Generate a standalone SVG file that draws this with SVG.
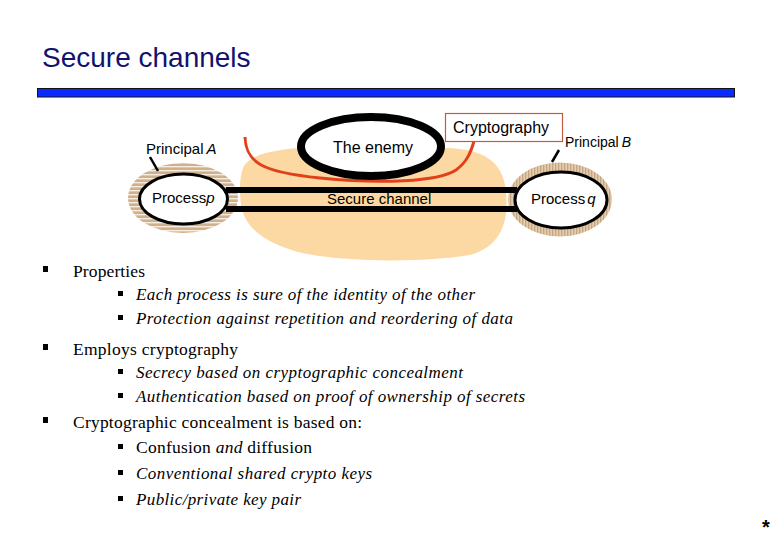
<svg xmlns="http://www.w3.org/2000/svg" width="780" height="540" viewBox="0 0 780 540">
<style>
.lbl{font-family:"Liberation Sans",Arial,sans-serif;fill:#000}
.l1{font-family:"Liberation Serif","Times New Roman",serif;font-size:17.5px;fill:#000}
.l2{font-family:"Liberation Serif","Times New Roman",serif;font-size:17px;font-style:italic;fill:#000}
.bul{fill:#000}
.chan{stroke:#000;stroke-width:6;fill:none}
</style>
<defs>
<pattern id="hstripe" width="6" height="4" patternUnits="userSpaceOnUse">
<rect width="6" height="4" fill="#cfb08a"/>
<rect y="2" width="6" height="1.4" fill="#f6ece0"/>
</pattern>
<pattern id="vstripe" width="3" height="6" patternUnits="userSpaceOnUse">
<rect width="3" height="6" fill="#c8a57c"/>
<rect x="1.6" width="1" height="6" fill="#f4e8d8"/>
</pattern>
</defs>
<rect width="780" height="540" fill="#fff"/>
<g id="title">
<text x="42" y="67" font-family="'Liberation Sans',Arial,sans-serif" font-size="28" fill="#12126e">Secure channels</text>
<rect x="37.5" y="88.5" width="697" height="8.5" fill="#0a2aff" stroke="#111" stroke-width="1"/>
</g>
<g id="blob">
<path d="M244,166 C252,153 280,148 320,147 L450,148 C482,150 500,160 505,185 C510,215 505,245 470,255 C420,263 345,262 302,253 C268,244 245,230 241,205 C239,188 240,174 244,166 Z" fill="#fcd9a2"/>
</g>
<g id="principalA">
<ellipse cx="183" cy="198" rx="55" ry="35" fill="url(#hstripe)"/>
<ellipse cx="183.5" cy="199" rx="44" ry="25" fill="#fff" stroke="#000" stroke-width="3"/>
<text class="lbl" x="146" y="154" font-size="15">Principal<tspan font-style="italic" dx="3">A</tspan></text>
<line x1="150" y1="157" x2="158" y2="171" stroke="#000" stroke-width="2.5"/>
<text class="lbl" x="152" y="203" font-size="15">Process<tspan font-style="italic">p</tspan></text>
</g>
<g id="principalB">
<ellipse cx="560" cy="199.5" rx="52" ry="37" fill="url(#vstripe)"/>
<ellipse cx="561" cy="200" rx="46" ry="28" fill="#fff" stroke="#000" stroke-width="3"/>
<text class="lbl" x="565" y="147" font-size="14">Principal<tspan font-style="italic" dx="3">B</tspan></text>
<line x1="559" y1="150" x2="552" y2="162" stroke="#000" stroke-width="2.5"/>
<text class="lbl" x="531" y="204" font-size="15">Process<tspan font-style="italic" dx="2">q</tspan></text>
</g>
<g id="connectors">
<line class="chan" x1="226" y1="190" x2="517" y2="190"/>
<line class="chan" x1="226" y1="209" x2="517" y2="209"/>
<path d="M245,137 C246,163 262,172 320,178 C380,184 438,182 456,170 C467,162 471,152 474,141" fill="none" stroke="#e2401a" stroke-width="3"/>
</g>
<g id="channelLabel">
<text class="lbl" x="327" y="204" font-size="15">Secure channel</text>
</g>
<g id="enemy">
<ellipse cx="371" cy="146.5" rx="70" ry="29.5" fill="#fff" stroke="#000" stroke-width="8"/>
<text class="lbl" x="333" y="153" font-size="16">The enemy</text>
</g>
<g id="cryptography">
<rect x="445.5" y="113.5" width="117" height="28" fill="#fff" stroke="#c05a40" stroke-width="1.2"/>
<text class="lbl" x="453" y="133" font-size="16">Cryptography</text>
</g>
<g id="bullets">
<rect class="bul" x="43" y="266" width="5" height="6"/>
<text class="l1" x="73" y="277" textLength="72" lengthAdjust="spacing">Properties</text>
<rect class="bul" x="118" y="291" width="5" height="5"/>
<text class="l2" x="136" y="300" textLength="339" lengthAdjust="spacing">Each process is sure of the identity of the other</text>
<rect class="bul" x="118" y="315" width="5" height="5"/>
<text class="l2" x="136" y="324" textLength="377" lengthAdjust="spacing">Protection against repetition and reordering of data</text>
<rect class="bul" x="43" y="344" width="5" height="6"/>
<text class="l1" x="73" y="355" textLength="165" lengthAdjust="spacing">Employs cryptography</text>
<rect class="bul" x="118" y="369" width="5" height="5"/>
<text class="l2" x="136" y="378" textLength="327" lengthAdjust="spacing">Secrecy based on cryptographic concealment</text>
<rect class="bul" x="118" y="393" width="5" height="5"/>
<text class="l2" x="136" y="402" textLength="389" lengthAdjust="spacing">Authentication based on proof of ownership of secrets</text>
<rect class="bul" x="43" y="417" width="5" height="6"/>
<text class="l1" x="73" y="428" textLength="289" lengthAdjust="spacing">Cryptographic concealment is based on:</text>
<rect class="bul" x="118" y="444" width="5" height="5"/>
<text class="l1" x="136" y="453" textLength="176" lengthAdjust="spacing">Confusion <tspan font-style="italic">and</tspan> diffusion</text>
<rect class="bul" x="118" y="470" width="5" height="5"/>
<text class="l2" x="136" y="479" textLength="236" lengthAdjust="spacing">Conventional shared crypto keys</text>
<rect class="bul" x="118" y="496" width="5" height="5"/>
<text class="l2" x="136" y="505" textLength="165" lengthAdjust="spacing">Public/private key pair</text>
</g>
<g id="footer">
<text x="762" y="534" font-family="'Liberation Sans',Arial,sans-serif" font-size="20" font-weight="bold" fill="#000">*</text>
</g>
</svg>
